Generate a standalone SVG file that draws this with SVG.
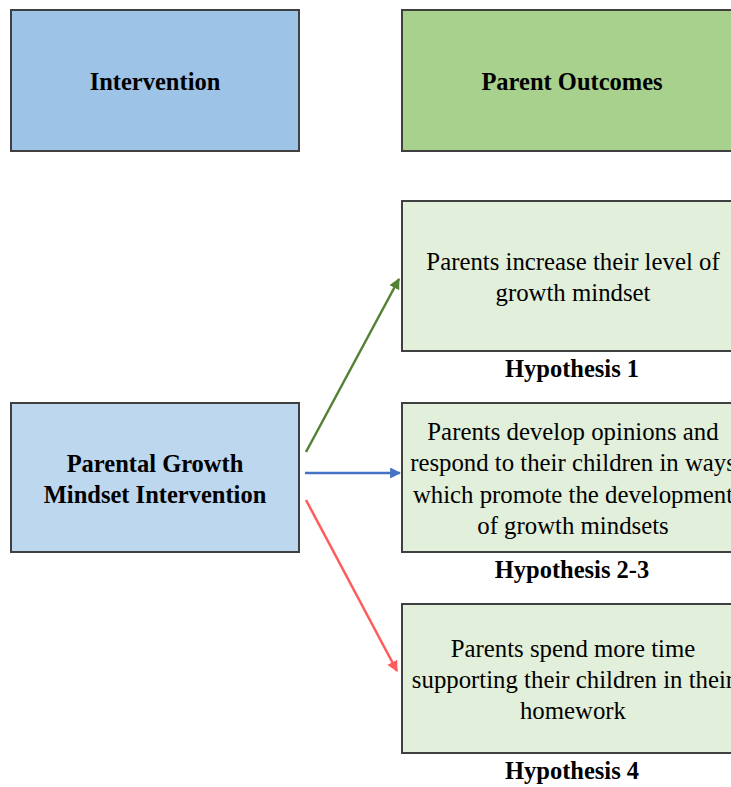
<svg xmlns="http://www.w3.org/2000/svg" width="731" height="787" viewBox="0 0 731 787">
  <style>
    .box { stroke: #404040; stroke-width: 2; }
    .head { font-family: "Liberation Serif", "Times New Roman", serif; font-weight: bold; font-size: 24.5px; fill: #000; text-anchor: middle; }
    .body { font-family: "Liberation Serif", "Times New Roman", serif; font-size: 24.8px; fill: #000; text-anchor: middle; }
    .conn { stroke-width: 2.5; fill: none; }
  </style>
  <defs>
    <marker id="arrGreen" viewBox="0 0 10 10" refX="9" refY="5" markerWidth="4.4" markerHeight="4.4" orient="auto" markerUnits="strokeWidth">
      <path d="M0,0 L10,5 L0,10 z" fill="#548235"/>
    </marker>
    <marker id="arrBlue" viewBox="0 0 10 10" refX="9" refY="5" markerWidth="4.4" markerHeight="4.4" orient="auto" markerUnits="strokeWidth">
      <path d="M0,0 L10,5 L0,10 z" fill="#4472c4"/>
    </marker>
    <marker id="arrRed" viewBox="0 0 10 10" refX="9" refY="5" markerWidth="4.4" markerHeight="4.4" orient="auto" markerUnits="strokeWidth">
      <path d="M0,0 L10,5 L0,10 z" fill="#ff5b5b"/>
    </marker>
  </defs>
  <rect width="731" height="787" fill="#ffffff"/>

  <g id="header-intervention">
    <rect class="box" x="11" y="10" width="288" height="141" fill="#9dc3e6"/>
    <text class="head" x="155" y="90">Intervention</text>
  </g>
  <g id="header-outcomes">
    <rect class="box" x="402" y="10" width="342" height="141" fill="#a9d18e"/>
    <text class="head" x="572" y="90">Parent Outcomes</text>
  </g>

  <g id="intervention">
    <rect class="box" x="11" y="403" width="288" height="149" fill="#bdd7ee"/>
    <text class="head" x="155" y="472">Parental Growth</text>
    <text class="head" x="155" y="503">Mindset Intervention</text>
  </g>

  <g id="outcome-1">
    <rect class="box" x="402" y="201" width="342" height="150" fill="#e2efda"/>
    <text class="body" x="573" y="270">Parents increase their level of</text>
    <text class="body" x="573" y="301">growth mindset</text>
    <text class="head" x="572" y="377">Hypothesis 1</text>
  </g>

  <g id="outcome-2">
    <rect class="box" x="402" y="403" width="342" height="149" fill="#e2efda"/>
    <text class="body" x="573" y="440">Parents develop opinions and</text>
    <text class="body" x="573" y="471">respond to their children in ways</text>
    <text class="body" x="573" y="503">which promote the development</text>
    <text class="body" x="573" y="534">of growth mindsets</text>
    <text class="head" x="572" y="578">Hypothesis 2-3</text>
  </g>

  <g id="outcome-3">
    <rect class="box" x="402" y="604" width="342" height="149" fill="#e2efda"/>
    <text class="body" x="573" y="657">Parents spend more time</text>
    <text class="body" x="573" y="688">supporting their children in their</text>
    <text class="body" x="573" y="719">homework</text>
    <text class="head" x="572" y="779">Hypothesis 4</text>
  </g>

  <g id="connectors">
    <line class="conn" x1="306" y1="452" x2="399" y2="279" stroke="#548235" marker-end="url(#arrGreen)"/>
    <line class="conn" x1="305" y1="473" x2="400" y2="473" stroke="#4472c4" marker-end="url(#arrBlue)"/>
    <line class="conn" x1="306" y1="500" x2="397" y2="671" stroke="#ff5b5b" marker-end="url(#arrRed)"/>
  </g>
</svg>
